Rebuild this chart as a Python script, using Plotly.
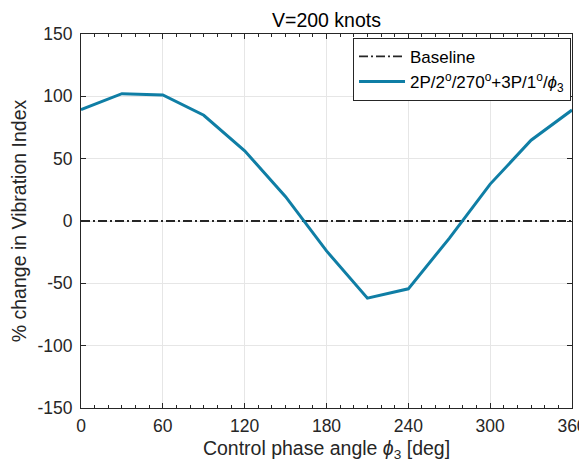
import plotly.graph_objects as go

phase_deg = [0, 30, 60, 90, 120, 150, 180, 210, 240, 270, 300, 330, 360]
vib_change = [89.3, 102.1, 101.1, 84.8, 56.3, 19.5, -24.0, -61.9, -54.4, -13.9, 29.6, 64.8, 89.0]
baseline_x = [0, 360]
baseline_y = [0, 0]
x_ticks = [0, 60, 120, 180, 240, 300, 360]
y_ticks = [-150, -100, -50, 0, 50, 100, 150]
y_ticktext = ["-150", "-100", "-50", "0", "50", "100", "150"]

fig = go.Figure()
fig.add_trace(go.Scatter(x=baseline_x, y=baseline_y, mode="lines", name="Baseline",
                         line=dict(color="#262626", width=1.8, dash="9px,3px,2px,3px")))
fig.add_trace(go.Scatter(x=phase_deg, y=vib_change, mode="lines",
                         name="2P/2<sup>o</sup>/270<sup>o</sup>+3P/1<sup>o</sup>/<i>ϕ</i><sub>3</sub>",
                         line=dict(color="#0F7EA5", width=3)))

axis_common = dict(showline=True, linecolor="#262626", linewidth=1, mirror="allticks",
                   ticks="inside", ticklen=5, tickcolor="#262626", automargin=False,
                   showgrid=True, gridcolor="#E6E6E6", gridwidth=1, zeroline=False,
                   tickfont=dict(size=17.5, color="#262626"))

fig.update_layout(
    width=579, height=454,
    margin=dict(l=73, r=15, t=26, b=54),
    paper_bgcolor="white", plot_bgcolor="white",
    font=dict(family="Liberation Sans, Arial, sans-serif", color="#262626"),
    title=dict(text="V=200 knots", x=0.5, xanchor="center", xref="paper",
               y=1 - 12 / 454, yanchor="middle",
               font=dict(size=19.5, color="#000000")),
    xaxis=dict(range=[0, 360], tickvals=x_ticks, ticklabelstandoff=2,
               title=dict(text="Control phase angle <i>ϕ</i><sub>3</sub> [deg]", font=dict(size=19.5), standoff=16),
               minor=dict(ticks="inside", ticklen=3, dtick=10, tickcolor="#262626", showgrid=False),
               **axis_common),
    yaxis=dict(range=[-150, 150], tickvals=y_ticks, ticktext=y_ticktext, ticklabelstandoff=4,
               title=dict(text="% change in Vibration Index", font=dict(size=19.5), standoff=5),
               **axis_common),
    legend=dict(x=0.998, y=0.99, xanchor="right", yanchor="top",
                bgcolor="white", bordercolor="#262626", borderwidth=1,
                itemwidth=46,
                font=dict(size=17, color="#000000"), tracegroupgap=0),
    showlegend=True,
)

fig.write_html("out.html")
